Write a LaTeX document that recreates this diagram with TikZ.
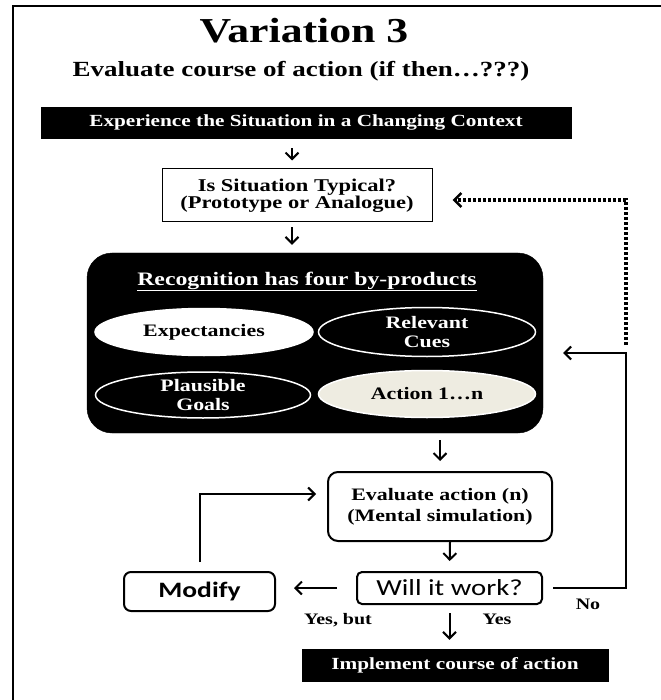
\documentclass[tikz,border=0pt]{standalone}
\usepackage{fontspec}
\setmainfont{Liberation Serif}
\newfontfamily\calfont{Carlito}
\usetikzlibrary{arrows.meta,shapes.geometric}
\newcommand{\hstretch}[1]{\scalebox{1.25}[1]{#1}}
\definecolor{cream}{RGB}{238,236,225}
\begin{document}
\begin{tikzpicture}[x=1pt,y=-1pt,
  arr/.style={line width=2pt,-{Straight Barb[length=6.5pt,width=13pt]}},
  dotarr/.style={line width=3.5pt,dash pattern=on 3pt off 2pt,-{Straight Barb[length=7pt,width=14pt,line width=2.6pt]}},
  blackbox/.style={draw=black,fill=black,text=white,inner sep=0pt,font=\fontsize{17}{20}\selectfont\bfseries},
  whitebox/.style={draw=black,line width=1pt,fill=white,inner sep=0pt,align=center},
  roundbox/.style={draw=black,line width=2pt,fill=white,inner sep=0pt,align=center},
  oval/.style={ellipse,inner sep=0pt,minimum width=217pt,minimum height=47pt,align=center,
     font=\fontsize{17.5}{19}\selectfont\bfseries},
  lbl/.style={anchor=base,font=\fontsize{16}{18}\selectfont\bfseries}
]
\useasboundingbox (0,0) rectangle (660,700);
% frame
\draw[line width=2pt] (13,704) -- (13,6) -- (664,6);
% titles
\node[anchor=base,font=\fontsize{35}{40}\selectfont\bfseries] (title) at (304,43) {\hstretch{Variation 3}};
\node[anchor=base,font=\fontsize{21.6}{25}\selectfont\bfseries] (subtitle) at (301,77) {\hstretch{Evaluate course of action (if then\ldots???)}};
% top boxes
\node[blackbox,minimum width=530pt,minimum height=31pt] (exp) at (306,122.5) {\hstretch{Experience the Situation in a Changing Context}};
\node[whitebox,minimum width=270pt,minimum height=53pt,font=\fontsize{18}{16.5}\selectfont\bfseries] (sit) at (297,195.5)
  {\hstretch{Is Situation Typical?}\\\hstretch{(Prototype or Analogue)}};
% recognition block
\node[draw=black,fill=black,rounded corners=25pt,minimum width=456pt,minimum height=180pt,inner sep=0pt] (rec) at (315,343) {};
\node[anchor=base,text=white,font=\fontsize{19}{22}\selectfont\bfseries] (rectitle) at (307,285) {\hstretch{\underline{Recognition has four by-products}}};
\node[oval,fill=white,draw=white,line width=1.5pt,minimum width=218pt] (expc) at (204,332) {\hstretch{Expectancies}};
\node[oval,fill=black,draw=white,line width=1.5pt,text=white,minimum height=49pt] (cues) at (427,332) {\hstretch{Relevant}\\\hstretch{Cues}};
\node[oval,fill=black,draw=white,line width=1.5pt,text=white,minimum width=215pt,minimum height=46pt] (goals) at (203,395) {\hstretch{Plausible}\\\hstretch{Goals}};
\node[oval,fill=cream,draw=white,line width=1.5pt] (act) at (427,394) {\hstretch{Action 1\ldots n}};
% lower boxes
\node[roundbox,rounded corners=10pt,minimum width=224pt,minimum height=69pt,font=\fontsize{17.5}{21}\selectfont\bfseries] (eval) at (440,506.5)
  {\hstretch{Evaluate action (n)}\\\hstretch{(Mental simulation)}};
\node[roundbox,rounded corners=5pt,minimum width=185pt,minimum height=32pt,font=\calfont\fontsize{23}{25}\selectfont] (will) at (449.5,588) {\hstretch{Will it work?}};
\node[roundbox,rounded corners=7pt,minimum width=151pt,minimum height=39pt,font=\calfont\fontsize{22}{24}\selectfont\bfseries] (modify) at (199.5,591.5) {\hstretch{Modify}};
\node[blackbox,minimum width=306pt,minimum height=32pt] (impl) at (455,665) {\hstretch{Implement course of action}};
% labels
\node[lbl] (yesbut) at (338,624) {\hstretch{Yes, but}};
\node[lbl] (yes) at (497,624) {\hstretch{Yes}};
\node[lbl] (no) at (588,609) {\hstretch{No}};
% connectors
\draw[arr,shorten <=10pt,shorten >=8pt] (exp.south -| 292,0) -- ([xshift=-5pt]sit.north);
\draw[arr,shorten <=5pt,shorten >=8pt] ([xshift=-5pt]sit.south) -- ([xshift=-5pt]sit.south |- rec.north);
\draw[arr,shorten <=7pt,shorten >=10pt] (rec.south -| eval.north) -- (eval.north);
\draw[arr,shorten >=10pt] ([xshift=10pt]eval.south) -- (will.north);
\draw[arr,shorten <=19pt,shorten >=18pt] (will.west) -- (will.west -| modify.east);
\draw[arr,shorten <=9pt,shorten >=11pt] (modify.north) |- ([yshift=12.5pt]eval.west);
\coordinate (nocorner) at (626,353);
\draw[arr,shorten <=10pt,shorten >=20pt] (will.east) -| (nocorner) -- (nocorner -| rec.east);
\coordinate (dotstart) at (626,345);
\draw[dotarr,shorten >=20pt] (dotstart) |- ([yshift=-4.5pt]sit.east);
\draw[arr,shorten <=8pt,shorten >=9pt] (will.south) -- (will.south |- impl.north);
\end{tikzpicture}
\end{document}
